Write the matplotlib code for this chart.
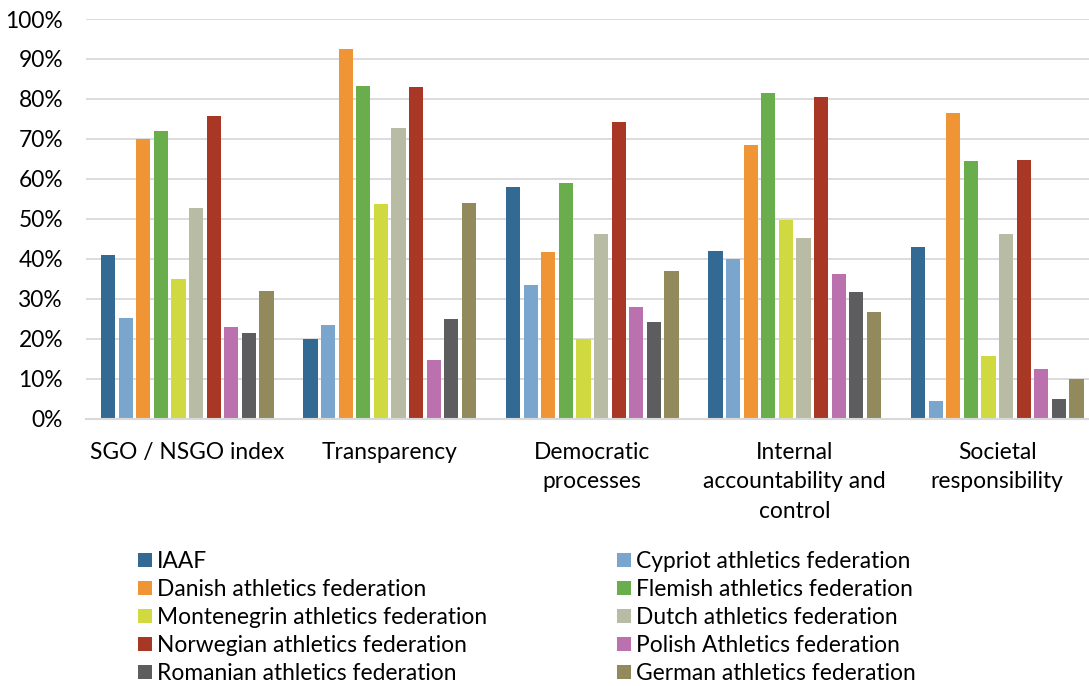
import matplotlib
matplotlib.use("Agg")
import matplotlib.pyplot as plt
import numpy as np

categories = ["SGO / NSGO index", "Transparency", "Democratic\nprocesses",
              "Internal\naccountability and\ncontrol", "Societal\nresponsibility"]
series = ["IAAF", "Cypriot athletics federation", "Danish athletics federation",
          "Flemish athletics federation", "Montenegrin athletics federation",
          "Dutch athletics federation", "Norwegian athletics federation",
          "Polish Athletics federation", "Romanian athletics federation",
          "German athletics federation"]
iaaf        = [41.0, 20.0, 58.0, 42.0, 43.0]
cypriot     = [25.2, 23.3, 33.4, 39.8, 4.4]
danish      = [69.9, 92.6, 41.6, 68.4, 76.5]
flemish     = [72.0, 83.3, 59.0, 81.4, 64.5]
montenegrin = [34.8, 53.8, 19.9, 49.8, 15.7]
dutch       = [52.7, 72.6, 46.2, 45.3, 46.3]
norwegian   = [75.7, 83.1, 74.1, 80.6, 64.7]
polish      = [22.8, 14.6, 28.0, 36.1, 12.3]
romanian    = [21.5, 24.9, 24.1, 31.6, 4.9]
german      = [31.8, 54.0, 36.8, 26.6, 9.8]
values = [iaaf, cypriot, danish, flemish, montenegrin, dutch, norwegian,
          polish, romanian, german]
colors = ["#336a93", "#7aa6cd", "#ef9536", "#6aad4c", "#d0d940",
          "#b9bca4", "#a93726", "#ba71ae", "#5d5d5f", "#928a5d"]
yticks = [0, 10, 20, 30, 40, 50, 60, 70, 80, 90, 100]
ytick_labels = ["0%", "10%", "20%", "30%", "40%", "50%", "60%", "70%", "80%", "90%", "100%"]

W, H = 1089, 686
fig = plt.figure(figsize=(W / 100, H / 100), dpi=100)
family = ["Lato", "DejaVu Sans"]

# choose font size so text width roughly matches the reference
r = fig.canvas.get_renderer()
t = fig.text(0, 0, "Danish athletics federation", fontsize=15, family=family)
wpx = t.get_window_extent(renderer=r).width
t.remove()
fs = 15 * 261.0 / wpx * 1.03

ax = fig.add_axes([86 / W, 1 - 418.5 / H, 1012.5 / W, 399.5 / H])
x = np.arange(len(categories))
pitch = 0.0869
bw = 0.0700
handles = []
for i, (vals, c) in enumerate(zip(values, colors)):
    b = ax.bar(x + (i - 4.5) * pitch, vals, width=bw, color=c, label=series[i],
               zorder=3)
    handles.append(b)

ax.set_xlim(-0.5, 4.5)
ax.set_ylim(0, 100)
ax.set_yticks(yticks)
ax.set_yticklabels(ytick_labels, family=family, fontsize=fs, color="#000000")
ax.set_xticks(x)
ax.set_xticklabels(categories, family=family, fontsize=fs, color="#000000",
                   linespacing=1.5)
ax.tick_params(axis="y", length=0, pad=23 * 72 / 100)
ax.tick_params(axis="x", length=0, pad=23 * 72 / 100)
for lab in ax.get_xticklabels():
    lab.set_verticalalignment("top")
ax.grid(axis="y", color="#d9d9d9", linewidth=1.3, zorder=0)
for s in ["top", "right", "left"]:
    ax.spines[s].set_visible(False)
ax.spines["bottom"].set_color("#d9d9d9")
ax.spines["bottom"].set_linewidth(1.5)
ax.spines["bottom"].set_zorder(4)

fpx = fs * 100 / 72.0
t = fig.text(0, 0, "Dg", fontsize=fs, family=family)
th = t.get_window_extent(renderer=r).height
t.remove()
common = dict(frameon=False, prop={"family": family, "size": fs},
              handlelength=14 / fpx, handleheight=13.5 / fpx, handletextpad=5 / fpx,
              labelspacing=max(0.0, (28.0 - th) / fpx), borderpad=0,
              borderaxespad=0, loc="upper left")
leg1 = fig.legend([handles[i] for i in range(0, 10, 2)],
                  [series[i] for i in range(0, 10, 2)],
                  bbox_to_anchor=(138 / W, 1 - 551 / H), **common)
leg2 = fig.legend([handles[i] for i in range(1, 10, 2)],
                  [series[i] for i in range(1, 10, 2)],
                  bbox_to_anchor=(617 / W, 1 - 551 / H), **common)
for lg in (leg1, leg2):
    for tx in lg.get_texts():
        tx.set_color("#000000")

fig.savefig("out.png", dpi=100)
